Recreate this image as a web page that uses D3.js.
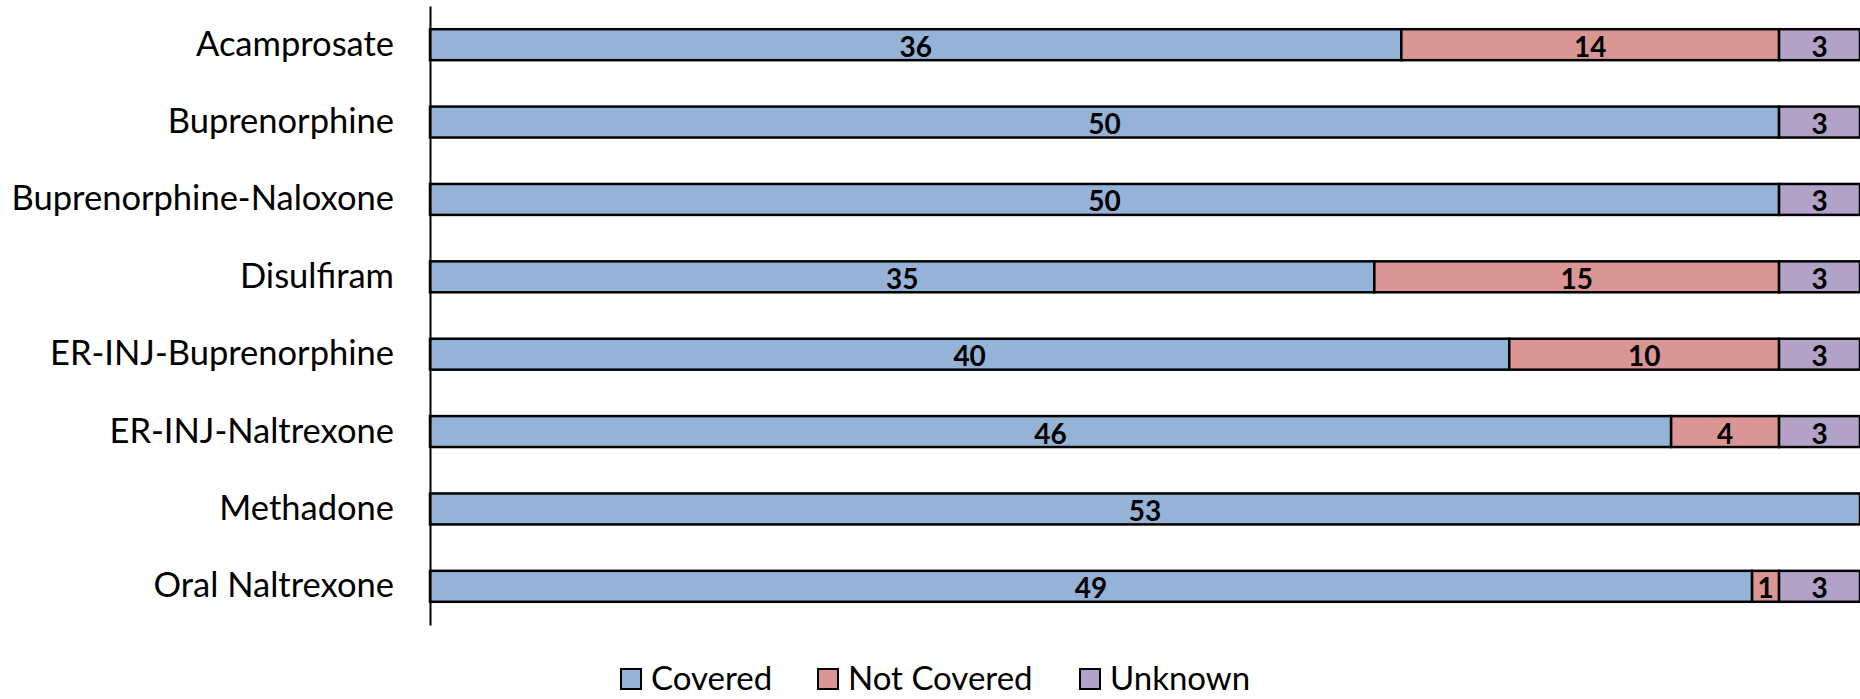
<!DOCTYPE html>
<html><head><meta charset="utf-8">
<script src="https://cdn.jsdelivr.net/npm/d3@7"></script>
<style>html,body{margin:0;padding:0;background:#fff;}svg{display:block;}</style>
</head><body>
<svg id="c" width="1860" height="699"></svg>
<script>
const categories = ["Acamprosate","Buprenorphine","Buprenorphine-Naloxone","Disulfiram","ER-INJ-Buprenorphine","ER-INJ-Naltrexone","Methadone","Oral Naltrexone"];
const seriesNames = ["Covered","Not Covered","Unknown"];
const covered    = [36,50,50,35,40,46,53,49];
const notCovered = [14,0,0,15,10,4,0,1];
const unknown    = [3,3,3,3,3,3,0,3];
const colors = ["#95B3D7","#D99694","#B3A2C7"];

const svg = d3.select("#c");
const font = "Lato, 'Open Sans', sans-serif";
const x = d3.scaleLinear().domain([0,53]).range([430,1860]);
const y = d3.scaleBand().domain(categories).range([6,625]).paddingInner(0.6).paddingOuter(0.3);

const rows = categories.map((c,i)=>({cat:c, vals:[covered[i],notCovered[i],unknown[i]]}));
const stack = d3.stack().keys([0,1,2]).value((d,k)=>d.vals[k]);
const series = stack(rows);

series.forEach((s,k)=>{
  const g = svg.append("g");
  s.forEach((seg,i)=>{
    const v = rows[i].vals[k];
    if(!v) return;
    g.append("rect").attr("x",x(seg[0])).attr("y",y(rows[i].cat))
     .attr("width",x(seg[1])-x(seg[0])).attr("height",y.bandwidth())
     .attr("fill",colors[k]).attr("stroke","#000").attr("stroke-width",2.5);
  });
});
series.forEach((s,k)=>{
  s.forEach((seg,i)=>{
    const v = rows[i].vals[k];
    if(!v) return;
    svg.append("text").attr("x",(x(seg[0])+x(seg[1]))/2).attr("y",y(rows[i].cat)+y.bandwidth()/2+1)
      .attr("text-anchor","middle").attr("dominant-baseline","central")
      .style("font-family",font).style("font-weight","bold").style("font-size","28px").attr("fill","#000").text(v);
  });
});

// y axis
const ax = svg.append("g").attr("transform","translate(430,0)")
  .call(d3.axisLeft(y).tickSize(0).tickPadding(36));
ax.select(".domain").attr("stroke","#000").attr("stroke-width",2);
ax.selectAll("text").style("font-family",font).style("font-size","34.5px").attr("fill","#000");

// legend
const legX = [621,818,1080];
seriesNames.forEach((n,k)=>{
  svg.append("rect").attr("x",legX[k]).attr("y",669).attr("width",20).attr("height",20)
    .attr("fill",colors[k]).attr("stroke","#000").attr("stroke-width",2);
  svg.append("text").attr("x",legX[k]+30).attr("y",690)
    .style("font-family",font).style("font-size","33px").attr("fill","#000").text(n);
});
</script>
</body></html>
